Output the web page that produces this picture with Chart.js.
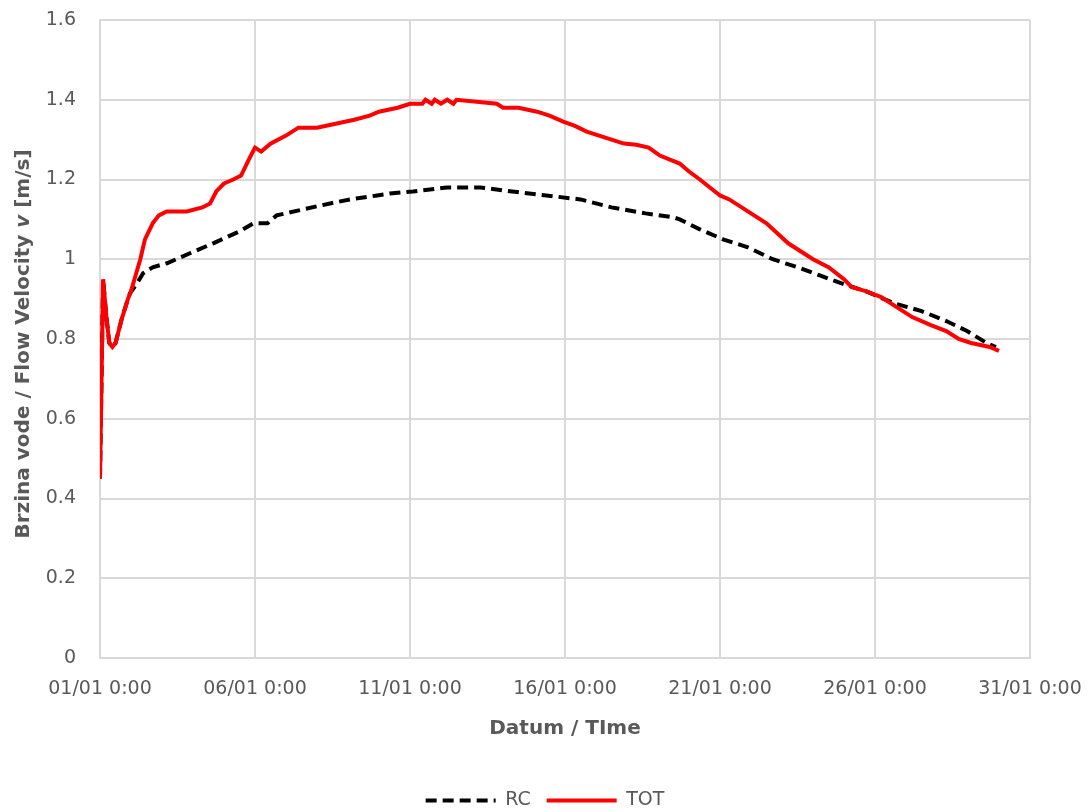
<!DOCTYPE html>
<html>
<head>
<meta charset="utf-8">
<script src="https://cdn.jsdelivr.net/npm/chart.js@4/dist/chart.umd.min.js"></script>
<style>
  html, body { margin: 0; padding: 0; background: #ffffff; }
  #wrap { width: 1090px; height: 812px; }
</style>
</head>
<body>
<div id="wrap"><canvas id="c" width="1090" height="812"></canvas></div>
<script>
// ---- Data (x in days since 01/01 0:00) ----
const rcDays = [0,0.1,0.2,0.3,0.4,0.5,0.7,0.9,0.97,1.2,1.39,1.7,2.16,2.9,3.65,4.5,4.94,5.4,5.7,6.55,7.42,8.06,8.94,9.35,10.1,11.2,12.26,13.3,14.4,15.5,16.5,17.6,18.5,18.7,19.35,20.1,20.9,21.7,22.5,23.2,23.9,24.7,25.6,26.5,27.3,27.97,28.6,28.9];
const rcValues = [0.45,0.95,0.86,0.79,0.78,0.79,0.85,0.90,0.915,0.94,0.965,0.98,0.99,1.015,1.04,1.07,1.09,1.09,1.11,1.125,1.14,1.15,1.16,1.165,1.17,1.18,1.18,1.17,1.16,1.15,1.13,1.115,1.105,1.10,1.075,1.05,1.03,1.00,0.98,0.96,0.94,0.92,0.89,0.87,0.845,0.82,0.79,0.78];

const totDays = [0,0.1,0.2,0.3,0.4,0.5,0.7,0.9,1.0,1.15,1.3,1.45,1.7,1.9,2.15,2.8,3.3,3.55,3.75,4.0,4.3,4.55,4.8,5.0,5.2,5.5,6.0,6.4,7.0,7.6,8.2,8.7,9.0,9.6,10.0,10.4,10.5,10.7,10.8,11.0,11.2,11.4,11.5,12.8,13.0,13.5,14.1,14.5,14.94,15.3,15.7,16.1,16.5,16.9,17.3,17.7,18.06,18.7,19.0,19.35,20.0,20.3,20.9,21.5,22.2,22.6,23.0,23.5,24.0,24.25,24.7,25.2,25.7,26.2,26.8,27.3,27.7,28.1,28.7,29.0];
const totValues = [0.45,0.95,0.86,0.79,0.78,0.79,0.85,0.90,0.92,0.96,1.00,1.05,1.09,1.11,1.12,1.12,1.13,1.14,1.17,1.19,1.20,1.21,1.25,1.28,1.27,1.29,1.31,1.33,1.33,1.34,1.35,1.36,1.37,1.38,1.39,1.39,1.40,1.39,1.40,1.39,1.40,1.39,1.40,1.39,1.38,1.38,1.37,1.36,1.345,1.335,1.32,1.31,1.30,1.29,1.287,1.28,1.26,1.24,1.22,1.20,1.16,1.15,1.12,1.09,1.04,1.02,1.00,0.98,0.95,0.93,0.92,0.905,0.88,0.855,0.835,0.82,0.80,0.79,0.78,0.77];

const seriesNames = ['RC', 'TOT'];
const xTickLabels = ['01/01 0:00','06/01 0:00','11/01 0:00','16/01 0:00','21/01 0:00','26/01 0:00','31/01 0:00'];
const yTitleParts = ['Brzina vode / Flow Velocity ', 'v', ' [m/s]'];
const xTitle = 'Datum / TIme';

const FONT = "'DejaVu Sans', sans-serif";
const TEXT = '#595959';
const GRID = '#d9d9d9';

const toPoints = (xs, ys) => xs.map((x, i) => ({ x: x, y: ys[i] }));

const yTitlePlugin = {
  id: 'yTitle',
  afterLayout(chart) {
    // let the y tick labels use the space left of the axis (avoid clipping)
    chart.scales.y.left = 0;
  },
  afterDraw(chart) {
    const ctx = chart.ctx;
    const area = chart.chartArea;
    const cy = (area.top + area.bottom) / 2 + 5;
    const cx = 24;
    const normal = "bold 20px " + FONT;
    const italic = "italic bold 20px " + FONT;
    const fonts = [normal, italic, normal];
    ctx.save();
    let total = 0;
    const widths = yTitleParts.map((t, i) => { ctx.font = fonts[i]; const w = ctx.measureText(t).width; total += w; return w; });
    ctx.translate(cx, cy);
    ctx.rotate(-Math.PI / 2);
    ctx.fillStyle = TEXT;
    ctx.textBaseline = 'middle';
    ctx.textAlign = 'left';
    let x = -total / 2;
    yTitleParts.forEach((t, i) => { ctx.font = fonts[i]; ctx.fillText(t, x, 0); x += widths[i]; });
    ctx.restore();
  }
};

new Chart(document.getElementById('c'), {
  type: 'line',
  data: {
    datasets: [
      {
        label: seriesNames[0],
        data: toPoints(rcDays, rcValues),
        borderColor: '#000000',
        backgroundColor: '#000000',
        borderWidth: 4,
        borderDash: [11, 6],
        pointRadius: 0,
        pointHoverRadius: 0,
        pointBorderWidth: 0,
        tension: 0,
        fill: false,
        order: 1
      },
      {
        label: seriesNames[1],
        data: toPoints(totDays, totValues),
        borderColor: '#ff0000',
        backgroundColor: '#ff0000',
        borderWidth: 4,
        pointRadius: 0,
        pointHoverRadius: 0,
        pointBorderWidth: 0,
        tension: 0,
        fill: false,
        order: 0
      }
    ]
  },
  options: {
    responsive: false,
    animation: false,
    events: [],
    layout: { autoPadding: false, padding: { top: 20, right: 60, left: 60, bottom: -8 } },
    plugins: {
      tooltip: { enabled: false },
      legend: {
        position: 'bottom',
        labels: {
          usePointStyle: true,
          pointStyleWidth: 70,
          padding: 16,
          color: TEXT,
          font: { family: FONT, size: 19 },
          generateLabels(chart) {
            return chart.data.datasets.map((ds, i) => ({
              text: ds.label,
              fillStyle: ds.borderColor,
              strokeStyle: ds.borderColor,
              lineWidth: 4,
              lineDash: ds.borderDash || [],
              pointStyle: 'line',
              fontColor: TEXT,
              hidden: false,
              datasetIndex: i
            }));
          }
        }
      }
    },
    scales: {
      x: {
        type: 'linear',
        min: 0,
        max: 30,
        afterFit(scale) { scale.height = 117; scale.paddingLeft = 0; scale.paddingRight = 0; },
        grid: { color: GRID, lineWidth: 2, drawTicks: false },
        border: { display: true, color: GRID, width: 2 },
        ticks: {
          stepSize: 5,
          maxRotation: 0,
          autoSkip: false,
          padding: 20,
          color: TEXT,
          font: { family: FONT, size: 19 },
          callback: (v) => xTickLabels[Math.round(v / 5)]
        },
        title: {
          display: true,
          text: xTitle,
          color: TEXT,
          font: { family: FONT, size: 20, weight: 'bold' },
          padding: { top: 0, bottom: 34 }
        }
      },
      y: {
        min: 0,
        max: 1.6,
        afterFit(scale) { scale.width = 40; scale.paddingTop = 0; scale.paddingBottom = 0; },
        grid: { color: GRID, lineWidth: 2, drawTicks: false },
        border: { display: true, color: GRID, width: 2 },
        ticks: {
          stepSize: 0.2,
          padding: 24,
          color: TEXT,
          font: { family: FONT, size: 19 },
          callback: (v) => String(Number(v.toFixed(1)))
        }
      }
    }
  },
  plugins: [yTitlePlugin]
});
</script>
</body>
</html>
